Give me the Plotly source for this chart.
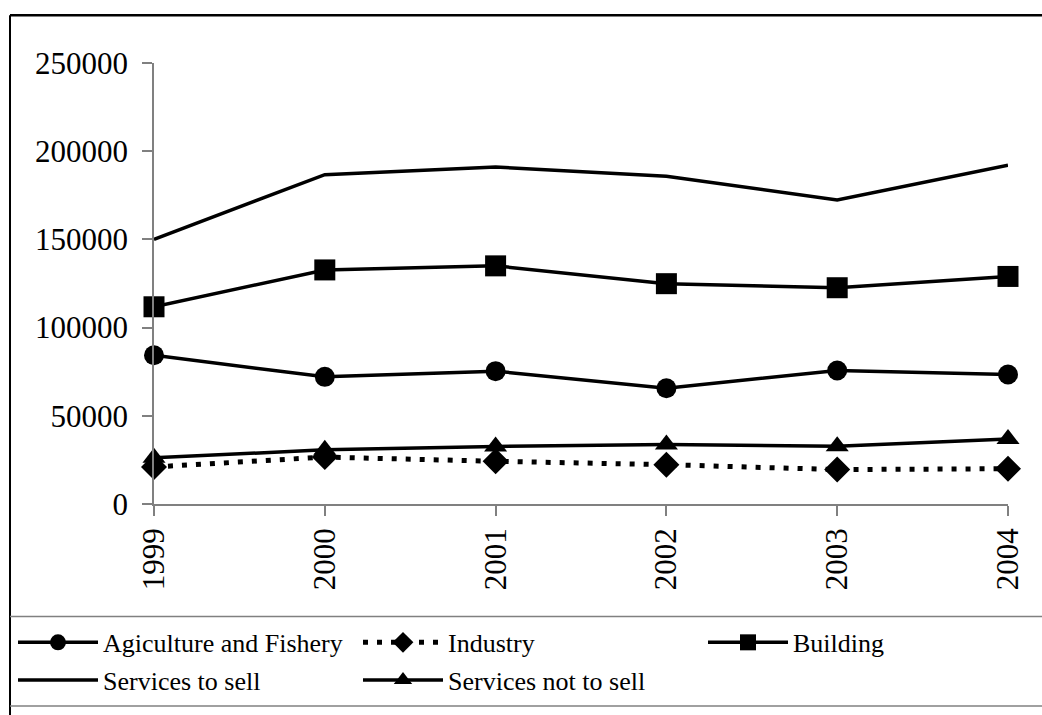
import plotly.graph_objects as go

years = [1999, 2000, 2001, 2002, 2003, 2004]
agriculture = [84300, 72100, 75300, 65600, 75700, 73400]
industry = [21000, 26600, 24200, 22300, 19500, 20000]
building = [111800, 132700, 135000, 124900, 122600, 129000]
services_sell = [150000, 186700, 191000, 185800, 172300, 192000]
services_not_sell = [26200, 30700, 32600, 33700, 32800, 36900]
y_ticks = [0, 50000, 100000, 150000, 200000, 250000]

FONT = "Liberation Serif"
W, H = 1042, 715
L, R, T, B = 154, 34, 63, 206
PW, PH = W - L - R, H - T - B


def px(x):  # page pixel x -> paper
    return (x - L) / PW


def py(y):  # page pixel y -> paper
    return (H - B - y) / PH


fig = go.Figure()
common = dict(mode="lines+markers", cliponaxis=False)
fig.add_trace(go.Scatter(x=years, y=services_sell, name="Services to sell", mode="lines",
                         line=dict(color="black", width=3.5), legend="legend4"))
fig.add_trace(go.Scatter(x=years, y=building, name="Building", **common,
                         line=dict(color="black", width=3.5),
                         marker=dict(symbol="square", size=21, color="black"), legend="legend3"))
fig.add_trace(go.Scatter(x=years, y=agriculture, name="Agiculture and Fishery", **common,
                         line=dict(color="black", width=3.5),
                         marker=dict(symbol="circle", size=20, color="black"), legend="legend"))
fig.add_trace(go.Scatter(x=years, y=industry, name="Industry", **common,
                         line=dict(color="black", width=5, dash="5px,9px"),
                         marker=dict(symbol="diamond", size=20, color="black"), legend="legend2"))
fig.add_trace(go.Scatter(x=years, y=services_not_sell, name="Services not to sell", **common,
                         line=dict(color="black", width=3.5),
                         marker=dict(symbol="triangle-up", size=20, color="black"), legend="legend5"))
for tr in fig.data:
    tr.showlegend = True

leg = dict(orientation="h", xanchor="left", yanchor="middle", bgcolor="rgba(0,0,0,0)",
           font=dict(family=FONT, size=26, color="black"), itemwidth=80, borderwidth=0)
row1, row2 = py(649), py(687)
col1, col2, col3 = px(13), px(358), px(703)

fig.update_layout(
    width=W, height=H,
    margin=dict(l=L, r=R, t=T, b=B),
    showlegend=True,
    paper_bgcolor="white", plot_bgcolor="white",
    font=dict(family=FONT, color="black"),
    legend=dict(x=col1, y=row1, **leg),
    legend2=dict(x=col2, y=row1, **leg),
    legend3=dict(x=col3, y=row1, **leg),
    legend4=dict(x=col1, y=row2, **leg),
    legend5=dict(x=col2, y=row2, **leg),
    xaxis=dict(range=[1999, 2004], tickvals=years, ticktext=[str(y) for y in years],
               tickangle=-90, showgrid=False, zeroline=False, showline=True,
               linecolor="#808080", linewidth=1.5, ticks="outside", ticklen=10,
               tickcolor="#808080", tickwidth=1.5, ticklabelstandoff=0,
               tickfont=dict(family=FONT, size=31, color="black")),
    yaxis=dict(range=[0, 250000], tickvals=y_ticks, ticktext=[str(v) for v in y_ticks],
               showgrid=False, zeroline=False, showline=True,
               linecolor="#808080", linewidth=1.5, ticks="outside", ticklen=10,
               tickcolor="#808080", tickwidth=1.5, ticklabelstandoff=8,
               tickfont=dict(family=FONT, size=31, color="black")),
    shapes=[
        dict(type="line", xref="paper", yref="paper", x0=px(10), x1=px(1060), y0=py(14.7), y1=py(14.7),
             line=dict(color="black", width=2.5)),
        dict(type="line", xref="paper", yref="paper", x0=px(10), x1=px(10), y0=py(14.7), y1=py(730),
             line=dict(color="black", width=2)),
        dict(type="line", xref="paper", yref="paper", x0=px(10), x1=px(1060), y0=py(622.7), y1=py(622.7),
             line=dict(color="#808080", width=1.5)),
        dict(type="line", xref="paper", yref="paper", x0=px(10), x1=px(1060), y0=py(713.3), y1=py(713.3),
             line=dict(color="#808080", width=1.5)),
    ],
)

page_js = (
    "var d=document.documentElement,b=document.body;"
    "[d,b].forEach(function(e){e.style.margin='0';e.style.padding='0';e.style.overflow='hidden';});"
)
fig.write_html("out.html", config={"displayModeBar": False}, post_script=page_js)
